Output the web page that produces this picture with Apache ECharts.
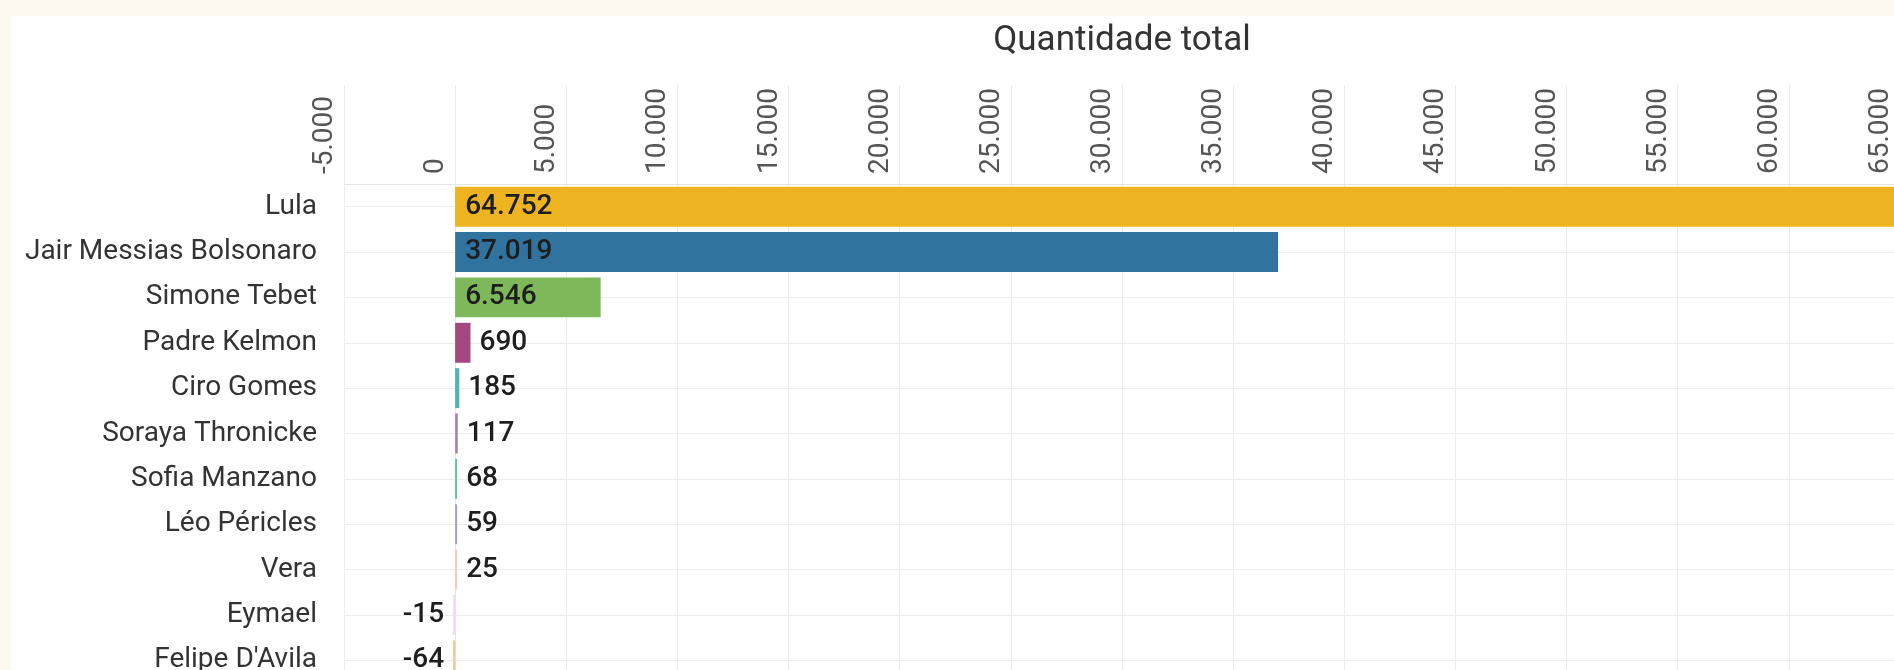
<!DOCTYPE html>
<html>
<head>
<meta charset="utf-8">
<script src="https://cdn.jsdelivr.net/npm/echarts@6/dist/echarts.min.js"></script>
<style>
  html, body { margin: 0; padding: 0; width: 1894px; height: 670px; overflow: hidden; background: #fdf8f0; }
  #panel { position: absolute; left: 11px; top: 16px; width: 1900px; height: 700px; background: #ffffff; }
  #chart { position: absolute; left: 0; top: 0; width: 1900px; height: 683px; }
</style>
</head>
<body>
<div id="panel"></div>
<div id="chart"></div>
<script>
// ---- data ----
const candidates = ["Lula", "Jair Messias Bolsonaro", "Simone Tebet", "Padre Kelmon", "Ciro Gomes",
  "Soraya Thronicke", "Sofia Manzano", "Léo Péricles", "Vera", "Eymael", "Felipe D'Avila"];
const totals = [64752, 37019, 6546, 690, 185, 117, 68, 59, 25, -15, -64];
const axisTitle = "Quantidade total";
const axisMin = -5000;
const axisMax = 65000;
const axisStep = 5000;

// ---- palette ----
const barColors = ["#EDB320", "#31739F", "#7EB85B", "#A3477F", "#4DB5B5", "#A583A8",
  "#64C09E", "#A59DD0", "#F4C6C0", "#EEDDEE", "#F6C487"];

function fmt(v) {
  const s = String(Math.abs(Math.round(v))).replace(/\B(?=(\d{3})+(?!\d))/g, ".");
  return (v < 0 ? "-" : "") + s;
}

const FONT = "Roboto";
const chart = echarts.init(document.getElementById("chart"), null, { renderer: "canvas" });

const barData = totals.map((v, i) => ({
  value: v,
  itemStyle: { color: barColors[i] },
  label: {
    position: v > 5000 ? "insideLeft" : (v >= 0 ? "right" : "left"),
    distance: v > 5000 ? 10 : 9
  }
}));

chart.setOption({
  animation: false,
  backgroundColor: "transparent",
  grid: { left: 344, top: 184, right: 0, height: 499, outerBoundsMode: "none", containLabel: false },
  xAxis: {
    type: "value",
    position: "top",
    min: axisMin,
    max: axisMax,
    interval: axisStep,
    name: axisTitle,
    nameLocation: "middle",
    nameGap: 125,
    nameTextStyle: { fontFamily: FONT, fontSize: 35, color: "#333333" },
    axisLine: { show: true, lineStyle: { color: "#e4e4e4", width: 1 } },
    axisTick: { show: true, length: 99, lineStyle: { color: "#ececec", width: 1 } },
    splitLine: { show: true, lineStyle: { color: "#ececec", width: 1 } },
    axisLabel: {
      rotate: -90,
      margin: 10,
      fontFamily: FONT,
      fontSize: 28,
      color: "#555555",
      verticalAlign: "bottom",
      lineHeight: 38,
      showMinLabel: true,
      showMaxLabel: true,
      hideOverlap: false,
      formatter: (v) => fmt(v)
    }
  },
  yAxis: {
    type: "category",
    inverse: true,
    data: candidates,
    axisLine: { show: true, lineStyle: { color: "#e4e4e4", width: 1 } },
    axisTick: { show: true, alignWithLabel: true, length: 17, lineStyle: { color: "#ececec", width: 1 } },
    splitLine: { show: false },
    axisLabel: {
      interval: 0,
      margin: 27,
      fontFamily: FONT,
      fontSize: 28,
      color: "#333333"
    }
  },
  series: [
    {
      type: "bar",
      z: 1,
      data: candidates.map(() => null),
      silent: true,
      markLine: {
        z: 1,
        silent: true,
        symbol: ["none", "none"],
        label: { show: false },
        lineStyle: { color: "#ececec", width: 1, type: "solid" },
        data: candidates.map((c) => ({ yAxis: c }))
      }
    },
    {
      type: "bar",
      z: 3,
      barGap: "-100%",
      barCategoryGap: "12%",
      barMinHeight: 2,
      data: barData,
      label: {
        show: true,
        fontFamily: FONT,
        fontSize: 28,
        fontWeight: 500,
        color: "#1e1e1e",
        formatter: (p) => fmt(p.value)
      }
    }
  ]
});
</script>
</body>
</html>
